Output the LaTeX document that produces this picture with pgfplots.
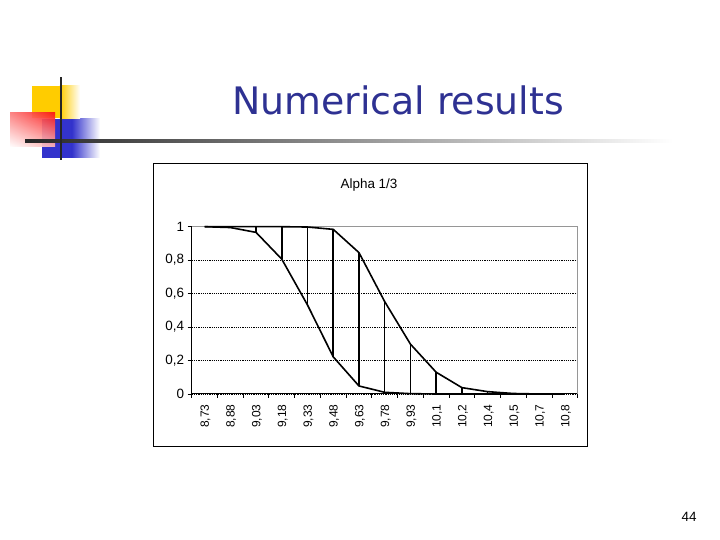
\documentclass[border=0pt]{standalone}
\usepackage{pgfplots}
\pgfplotsset{compat=1.18}
\usetikzlibrary{shadings}
\usepackage{fontspec}
\setmainfont{Liberation Sans}
\newfontfamily\titlefont{DejaVu Sans}
\definecolor{titleblue}{RGB}{46,49,146}
\definecolor{logoyellow}{RGB}{255,204,0}
\definecolor{logoblue}{RGB}{51,51,204}
\definecolor{logored}{RGB}{250,20,20}
\definecolor{bordergray}{RGB}{150,150,150}
\begin{document}
\begin{tikzpicture}[x=1bp,y=1bp]
\useasboundingbox (0,0) rectangle (720,540);
\fill[white] (0,0) rectangle (720,540);
% logo
\fill[logoblue] (41.7,382) rectangle (72,421);
\shade[left color=logoblue, right color=white] (71.9,382) rectangle (100,421);
\fill[logoyellow] (31.7,421.7) rectangle (60,454.3);
\shade[left color=logoyellow, right color=white] (59.9,421.7) rectangle (80,454.3);
\shade[upper left=logored!55, upper right=logored, lower left=white, lower right=logored!30, opacity=0.92] (10,393) rectangle (55,427);
\shade[left color=black!85, right color=white] (25,397.8) rectangle (673,400.2);
\fill[black!85] (59.8,380) rectangle (62.2,463);
% slide title
\node[anchor=base, text=titleblue, inner sep=0pt] at (398,425) {\titlefont\fontsize{38}{44}\selectfont Numerical results};
% page number
\node[inner sep=0pt] at (689,23) {\fontsize{13.5}{15}\selectfont 44};
% chart box
\draw[black, line width=1bp] (153,93) rectangle (587,376);
\node[inner sep=0pt] at (369,355) {\fontsize{13.5}{15}\selectfont Alpha 1/3};
\begin{axis}[
  at={(191.7bp,146bp)}, anchor=south west,
  scale only axis, width=386bp, height=167.3bp,
  xmin=-0.5, xmax=14.5, ymin=0, ymax=1,
  axis lines=left, axis line style={-, black, line width=1bp},
  tick align=outside,
  xtick={0,...,14},
  xticklabels={{8,73},{8,88},{9,03},{9,18},{9,33},{9,48},{9,63},{9,78},{9,93},{10,1},{10,2},{10,4},{10,5},{10,7},{10,8}},
  major x tick style={draw=none},
  minor xtick={-0.5,0.5,...,14.5},
  minor x tick style={black, line width=0.9bp},
  minor tick length=4bp,
  ytick={0,0.2,0.4,0.6,0.8,1},
  yticklabels={0,{0,2},{0,4},{0,6},{0,8},1},
  major tick length=4bp,
  ytick style={black, line width=0.9bp},
  xticklabel shift=3bp,
  xticklabel style={xshift=1bp, rotate=90, anchor=east, font=\fontsize{12}{14}\selectfont},
  yticklabel style={font=\fontsize{13.5}{15}\selectfont},
  ymajorgrids,
  major grid style={black, line width=0.7bp, dash pattern=on 1.2bp off 1bp},
  clip=false,
]
\draw[bordergray, line width=1.1bp] (rel axis cs:0,1) -- (rel axis cs:1,1) -- (rel axis cs:1,0);
% lower curve
\addplot[black, line width=1.6bp] coordinates {
(0,1) (1,0.995) (2,0.966) (3,0.806) (4,0.532) (5,0.222) (6,0.048) (7,0.01) (8,0.002) (9,0) (10,0) (11,0) (12,0) (13,0) (14,0)};
% upper curve
\addplot[black, line width=1.6bp] coordinates {
(0,1) (1,1) (2,1) (3,1) (4,0.998) (5,0.984) (6,0.845) (7,0.552) (8,0.298) (9,0.13) (10,0.038) (11,0.014) (12,0.003) (13,0) (14,0)};
% high-low lines
\addplot[black, line width=1.8bp] coordinates {(2,0.966) (2,1)};
\addplot[black, line width=1.8bp] coordinates {(3,0.806) (3,1)};
\addplot[black, line width=0.7bp] coordinates {(4,0.532) (4,0.998)};
\addplot[black, line width=1.8bp] coordinates {(5,0.222) (5,0.984)};
\addplot[black, line width=1.8bp] coordinates {(6,0.048) (6,0.845)};
\addplot[black, line width=0.7bp] coordinates {(7,0.01) (7,0.552)};
\addplot[black, line width=0.7bp] coordinates {(8,0.002) (8,0.298)};
\addplot[black, line width=1.8bp] coordinates {(9,0) (9,0.13)};
\addplot[black, line width=1.8bp] coordinates {(10,0) (10,0.038)};
\addplot[black, line width=0.9bp] coordinates {(11,0) (11,0.014)};
\end{axis}
\end{tikzpicture}
\end{document}
